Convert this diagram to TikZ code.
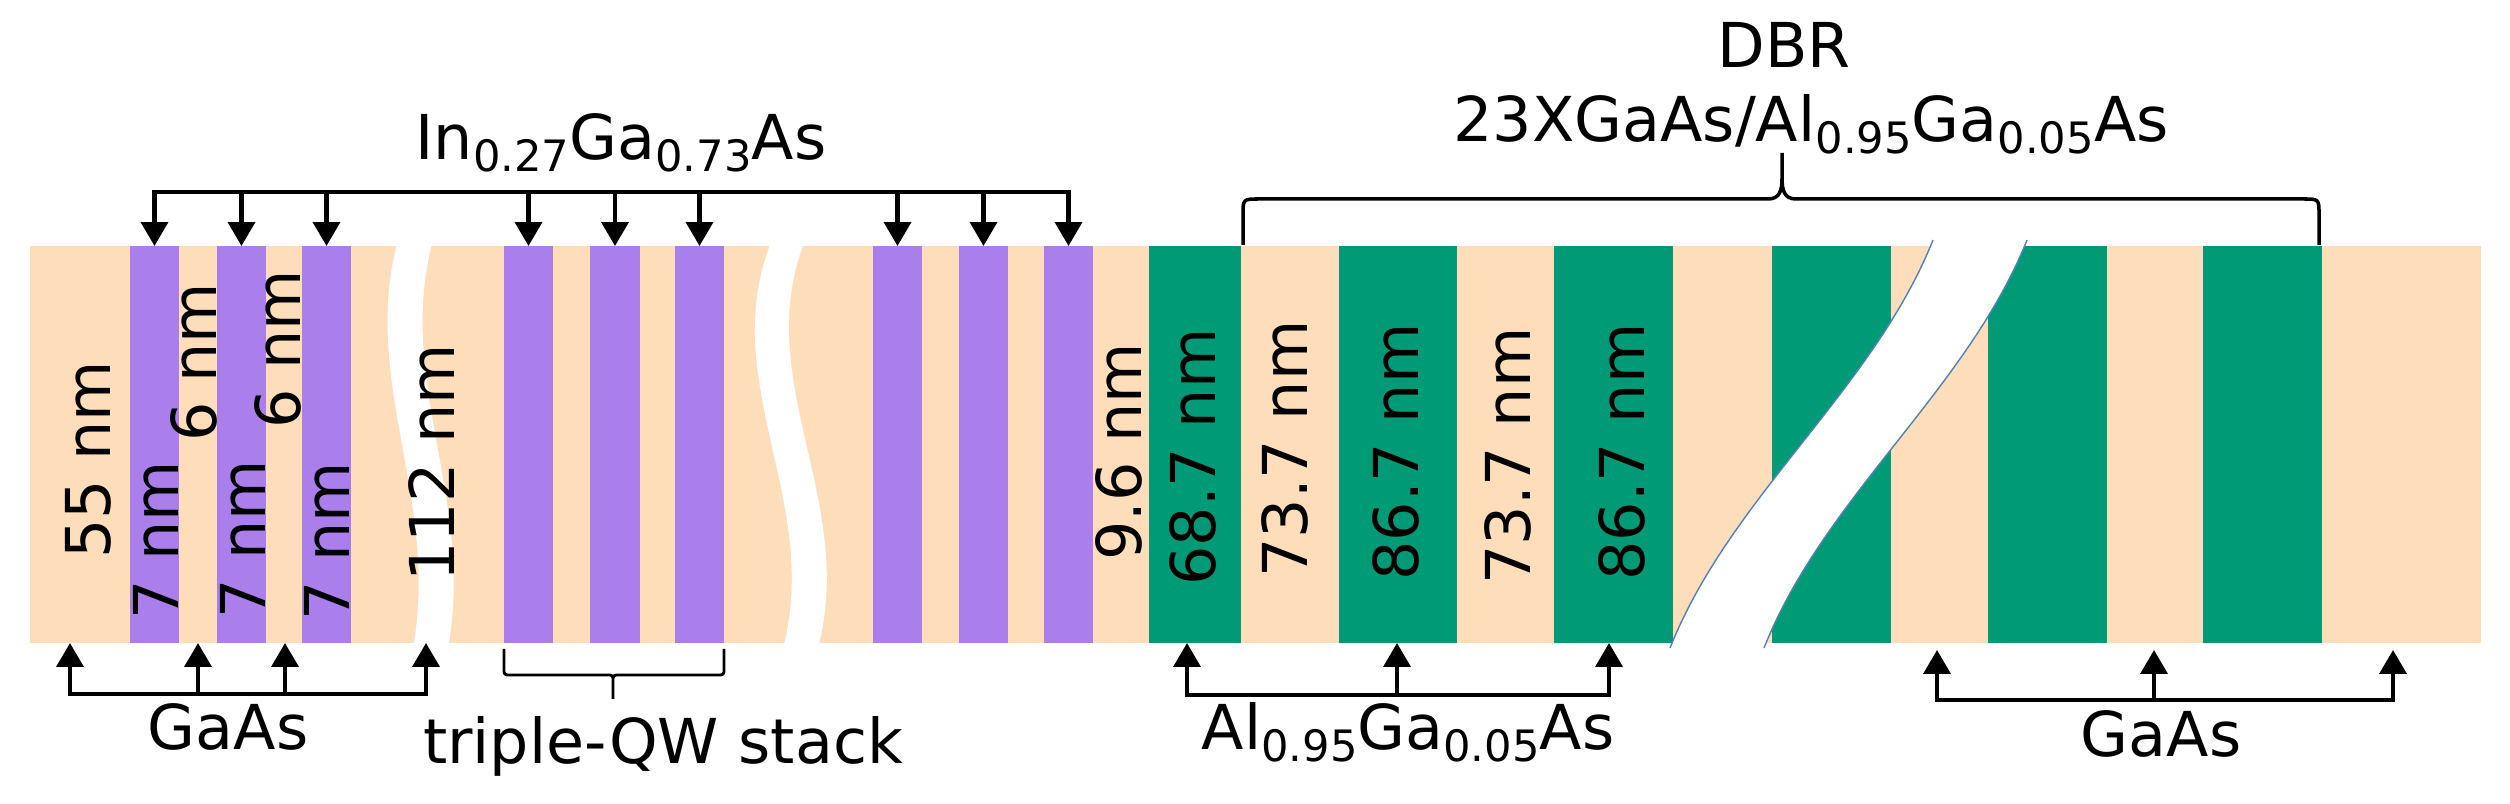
\documentclass[tikz,border=0pt]{standalone}
\usepackage{fontspec}
\setmainfont{DejaVu Sans}
\usetikzlibrary{arrows.meta}
\definecolor{peach}{RGB}{254,221,186}
\definecolor{qwpurple}{RGB}{171,127,235}
\definecolor{dbrgreen}{RGB}{0,155,118}
\definecolor{breakblue}{RGB}{80,130,185}
\newcommand{\lsub}[1]{\raisebox{-3.4pt}{\fontsize{12.3}{12.3}\selectfont #1}}
\begin{document}
\begin{tikzpicture}[x=0.01cm,y=-0.01cm,
  lbl/.style={font=\fontsize{17.6}{21}\selectfont, inner sep=0pt},
  vlbl/.style={lbl, rotate=90, anchor=base},
  hlbl/.style={lbl, anchor=base},
  conn/.style={line width=1.2pt, -{Triangle[length=6.8pt,width=7.6pt]}},
  barline/.style={line width=1.3pt, line cap=rect},
  bracel/.style={line width=1pt},
  smallbrace/.style={line width=0.8pt},
  breakline/.style={draw=breakblue, line width=0.4pt}]
\path[use as bounding box] (0,0) rectangle (2510,804);

% substrate band
\fill[peach] (30,246) rectangle (2481,643);

% quantum wells
\foreach \a/\b in {130/179,217/266,302/351,504/553,590/640,675/724,873/922,959/1008,1044/1093}
  \fill[qwpurple] (\a,246) rectangle (\b,643);

% DBR AlGaAs layers
\foreach \a/\b in {1149/1241,1339/1457,1554/1673,1772/1891,1988/2107,2203/2322}
  \fill[dbrgreen] (\a,246) rectangle (\b,643);

% breaks
\fill[white] (398,240) .. controls (360,380) and (440,500) .. (413,648) -- (448,648) .. controls (475,500) and (395,380) .. (433,240) -- cycle;
\fill[white] (772,240) .. controls (715,380) and (822,500) .. (783,648) -- (818,648) .. controls (857,500) and (750,380) .. (805,240) -- cycle;
\fill[white] (1670,648) .. controls (1730,497) and (1873,390) .. (1933,240) -- (2027,240) .. controls (1967,390) and (1824,497) .. (1764,648) -- cycle;
\draw[breakline] (1670,648) .. controls (1730,497) and (1873,390) .. (1933,240);
\draw[breakline] (1764,648) .. controls (1824,497) and (1967,390) .. (2027,240);

% thickness labels
\node[vlbl] (l55) at (110,460) {55 nm};
\node[vlbl] (l7a) at (178,540) {7 nm};
\node[vlbl] (l6a) at (216,362) {6 nm};
\node[vlbl] (l7b) at (265,539) {7 nm};
\node[vlbl] (l6b) at (300,349) {6 nm};
\node[vlbl] (l7c) at (349,541) {7 nm};
\node[vlbl] (l112) at (454,463) {112 nm};
\node[vlbl] (l96) at (1141,452) {9.6 nm};
\node[vlbl] (l687) at (1215,457) {68.7 nm};
\node[vlbl] (l737a) at (1307,449) {73.7 nm};
\node[vlbl] (l867a) at (1418,452) {86.7 nm};
\node[vlbl] (l737b) at (1530,456) {73.7 nm};
\node[vlbl] (l867b) at (1644,452) {86.7 nm};

% top InGaAs label and arrows
\node[hlbl] (ingaas) at (621,160) {In\lsub{0.27}Ga\lsub{0.73}As};
\foreach \x [count=\i] in {154.5,241.5,326.5,528.5,615,699.5,897.5,983.5,1068.5} {
  \coordinate (t\i) at (\x,192);
  \coordinate (q\i) at (\x,246);
}
\draw[barline] (t1) -- (t9);
\foreach \i in {1,...,9} \draw[conn] (t\i) -- (q\i);

% DBR brace and label
\node[hlbl] (dbr) at (1784,68) {DBR};
\node[hlbl] (dbrmat) at (1811,142) {23XGaAs/Al\lsub{0.95}Ga\lsub{0.05}As};
\coordinate (dbrL) at (1243,245);
\coordinate (dbrR) at (2319,245);
\coordinate (dbrT) at (1782,153);
\draw[bracel] (dbrL) -- (1243,215) .. controls (1243,199) .. (1259,199) -- (1768,199)
  .. controls (1780,199) and (1782,190) .. (1782,178) -- (dbrT) -- (1782,178)
  .. controls (1782,190) and (1784,199) .. (1796,199) -- (2303,199)
  .. controls (2319,199) .. (2319,215) -- (dbrR);

% left GaAs arrows
\foreach \x [count=\i] in {70,198,285,426} {
  \coordinate (ga\i) at (\x,643);
  \coordinate (gb\i) at (\x,694);
}
\draw[barline] (gb1) -- (gb4);
\foreach \i in {1,...,4} \draw[conn] (gb\i) -- (ga\i);
\node[hlbl] (gaasL) at (228,750) {GaAs};

% triple-QW stack brace
\coordinate (tqL) at (504,649);
\coordinate (tqR) at (724,649);
\coordinate (tqB) at (613,699);
\draw[smallbrace] (tqL) -- (504,668) .. controls (504,675) .. (511,675) -- (606,675)
  .. controls (613,675) .. (613,682) -- (tqB) -- (613,682)
  .. controls (613,675) .. (620,675) -- (717,675)
  .. controls (724,675) .. (724,668) -- (tqR);
\node[hlbl] (tqlabel) at (663,763) {triple-QW stack};

% AlGaAs arrows
\foreach \x [count=\i] in {1187,1397,1609} {
  \coordinate (aa\i) at (\x,643);
  \coordinate (ab\i) at (\x,695);
}
\draw[barline] (ab1) -- (ab3);
\foreach \i in {1,...,3} \draw[conn] (ab\i) -- (aa\i);
\node[hlbl] (algaas) at (1408,750) {Al\lsub{0.95}Ga\lsub{0.05}As};

% right GaAs arrows
\foreach \x [count=\i] in {1937,2154,2393} {
  \coordinate (ra\i) at (\x,650);
  \coordinate (rb\i) at (\x,700);
}
\draw[barline] (rb1) -- (rb3);
\foreach \i in {1,...,3} \draw[conn] (rb\i) -- (ra\i);
\node[hlbl] (gaasR) at (2161,757) {GaAs};
\end{tikzpicture}
\end{document}
